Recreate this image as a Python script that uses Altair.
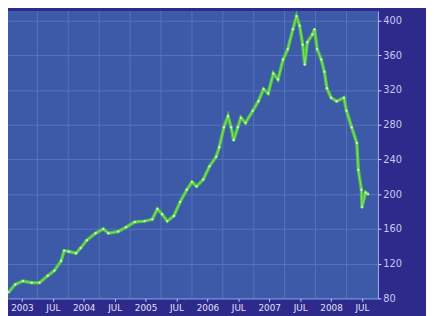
import altair as alt
import pandas as pd

# months since Jan 2003 and index values
months = [-2.6, -1.3, 0.2, 1.9, 3.4, 5.0, 6.3, 7.6, 8.2, 9.1, 10.5, 11.4, 12.6, 14.3,
          15.8, 16.8, 18.7, 20.2, 21.9, 23.8, 25.3, 26.3, 27.2, 28.2, 29.5, 30.7,
          32.0, 33.0, 33.9, 35.2, 36.4, 37.7, 38.3, 39.2, 40.0, 40.6, 41.1, 41.9,
          42.5, 43.4, 44.8, 45.9, 46.9, 47.8, 48.8, 49.7, 50.7, 51.6, 52.6, 53.3,
          53.9, 54.5, 54.9, 55.4, 56.4, 56.8, 57.3, 58.1, 58.7, 59.2, 60.0, 61.1,
          62.5, 63.0, 64.0, 65.0, 65.3, 65.9, 66.0, 66.7, 67.2]
values = [87, 96, 100, 98, 98, 106, 112, 123, 135, 134, 132, 138, 147, 155,
          160, 155, 157, 162, 168, 169, 171, 183, 177, 169, 175, 191,
          205, 214, 209, 217, 232, 243, 254, 277, 290, 277, 262, 277,
          288, 282, 296, 307, 321, 316, 339, 332, 355, 367, 390, 405,
          394, 372, 349, 375, 384, 390, 367, 355, 341, 322, 311, 307,
          311, 296, 277, 259, 228, 205, 185, 202, 200]

tick_months = [0, 6, 12, 18, 24, 30, 36, 42, 48, 54, 60, 66]
tick_labels = ["2003", "JUL", "2004", "JUL", "2005", "JUL", "2006", "JUL",
               "2007", "JUL", "2008", "JUL"]
grid_months = [3, 9, 15, 21, 27, 33, 39, 45, 51, 57, 63]
y_ticks = [80, 120, 160, 200, 240, 280, 320, 360, 400]

df = pd.DataFrame({"m": months, "v": values})
grid_df = pd.DataFrame({"m": grid_months})

label_arr = "[" + ",".join(f"'{l}'" for l in tick_labels) + "]"

xscale = alt.Scale(domain=[-2.7, 69.1], nice=False, zero=False)
yscale = alt.Scale(domain=[80, 411], nice=False, zero=False)

x_axis = alt.Axis(values=tick_months,
                  labelExpr=f"{label_arr}[round(datum.value / 6)]",
                  title=None, grid=False, labelColor="#e0e0f8", labelFontSize=9,
                  labelFont="DejaVu Sans", tickColor="#c8d4f4", tickSize=3,
                  domainColor="#7f98dc", labelPadding=2, labelOverlap=False,
                  labelFlush=False)
x_enc = alt.X("m:Q", scale=xscale, axis=x_axis)

grid = alt.Chart(grid_df).mark_rule(color="#5574bd", strokeWidth=1).encode(x=x_enc)

base = alt.Chart(df).encode(
    x=x_enc,
    y=alt.Y("v:Q", scale=yscale,
            axis=alt.Axis(orient="right", values=y_ticks, title=None, grid=True,
                          gridColor="#5574bd", labelColor="#c8c8f0", labelFontSize=10,
                          labelFont="DejaVu Sans", tickColor="#d8e0ff", tickSize=3,
                          domainColor="#a8b8ec", labelPadding=2)),
)

line_green = base.mark_line(color="#4cc43c", strokeWidth=3.5)
line_light = base.mark_line(color="#d4f4d0", strokeWidth=0.8, opacity=0.6)
pts = base.mark_point(color="#e0f8e0", size=6, filled=True, opacity=0.8)

chart = alt.layer(grid, line_green, line_light, pts).properties(
    width=377, height=293, background="#2e2a8c",
    padding={"left": 0, "top": 0, "right": 49, "bottom": 15},
    autosize=alt.AutoSizeParams(type="none"),
).configure_view(fill="#3c5aa8", stroke=None)

chart.save("out.html", embed_options={"renderer": "svg", "actions": False})
